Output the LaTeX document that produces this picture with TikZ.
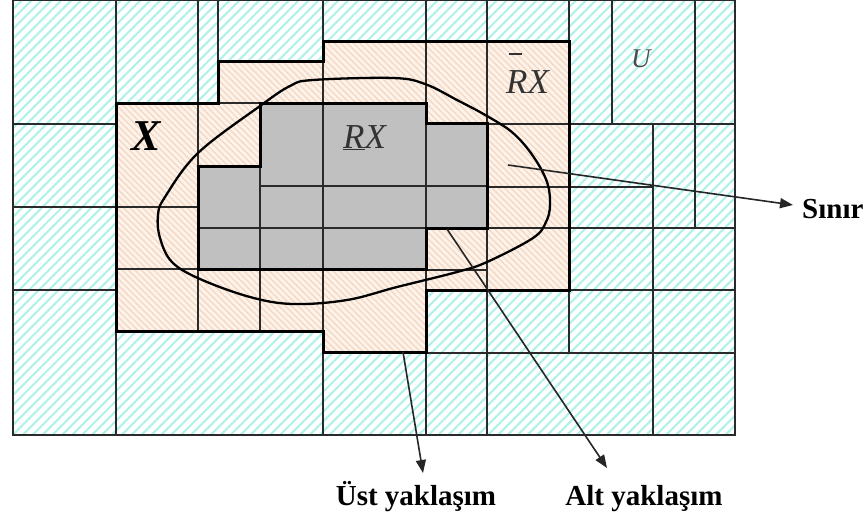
\documentclass[tikz,border=0pt]{standalone}
\usepackage{fontspec}
\setmainfont{Liberation Serif}
\usetikzlibrary{patterns.meta,arrows.meta}
\definecolor{cyanstripe}{HTML}{B0F2EA}
\definecolor{peachbase}{HTML}{FDF3EA}
\definecolor{peachstripe}{HTML}{F4DAC6}
\definecolor{grayfill}{HTML}{C0C0C0}
\definecolor{gridline}{HTML}{2A2A2A}
\newcommand{\myBarR}{\leavevmode\rlap{\hspace{0.08em}\raisebox{1.1em}{\rule{0.36em}{0.05em}}}R}
\begin{document}
\begin{tikzpicture}[x=1pt,y=-1pt,
  cyanzone/.style={preaction={fill=white}, pattern={Lines[angle=45,distance=7pt,line width=2.1pt]}, pattern color=cyanstripe},
  peachzone/.style={preaction={fill=peachbase}, pattern={Lines[angle=-45,distance=4.5pt,line width=1.5pt]}, pattern color=peachstripe},
  grayzone/.style={fill=grayfill},
  cell/.style={draw=gridline, line width=1.2pt},
  zoneedge/.style={draw=black, line width=3pt, line join=miter},
  blob/.style={draw=black, line width=2.3pt},
  arrowline/.style={draw=black!85, line width=1.6pt, -{Triangle[length=13pt,width=10pt]}},
  caption/.style={font=\fontsize{29}{32}\selectfont\bfseries, inner sep=0pt},
  setlabel/.style={inner sep=0pt}
]
\useasboundingbox (0,0) rectangle (867,517);
% base zone
\path[cyanzone] (13,0) rectangle (735,435);
% upper approximation zone
\path[peachzone] (116,103) -- (218,103) -- (218,61) -- (323,61) -- (323,41) -- (569,41)
  -- (569,290) -- (426,290) -- (426,352) -- (323,352) -- (323,331) -- (116,331) -- cycle;
% lower approximation zone
\path[grayzone] (260,103) -- (426,103) -- (426,123) -- (487,123) -- (487,228) -- (426,228)
  -- (426,269) -- (198,269) -- (198,166) -- (260,166) -- cycle;
% cells
\foreach \a/\b/\c/\d in {
  13/0/116/124, 116/0/198/103, 198/0/218/103, 218/0/323/61, 323/0/426/41, 426/0/487/41,
  487/0/569/41, 569/0/612/124, 612/0/695/124, 695/0/735/124, 695/124/735/228,
  569/124/653/187, 569/187/653/228, 653/124/695/228,
  569/228/653/290, 653/228/735/290, 569/290/653/353, 653/290/735/353,
  426/290/487/353, 487/290/569/353, 426/353/487/435, 487/353/653/435, 653/353/735/435,
  13/124/116/207, 13/207/116/290, 13/290/116/435, 116/331/323/435, 323/352/426/435,
  116/103/198/207, 198/103/260/166, 218/61/323/103, 323/41/426/103, 426/41/487/123,
  487/41/569/124, 487/124/569/187, 487/187/569/228, 487/228/569/290,
  426/228/487/270, 426/270/487/290, 116/207/198/269, 116/269/198/331,
  198/269/260/331, 260/269/323/331, 323/269/426/352,
  198/166/260/228, 198/228/260/269, 260/103/323/186, 260/186/323/228, 260/228/323/269,
  323/103/426/186, 323/186/426/228, 323/228/426/269, 426/123/487/186, 426/186/487/228}
  \draw[cell] (\a,\b) rectangle (\c,\d);
\draw[draw=gridline, line width=1.4pt] (13,0) rectangle (735,435);
% thick outlines
\draw[zoneedge] (116,103) -- (218,103) -- (218,61) -- (323,61) -- (323,41) -- (569,41)
  -- (569,290) -- (426,290) -- (426,352) -- (323,352) -- (323,331) -- (116,331) -- cycle;
\draw[zoneedge] (260,103) -- (426,103) -- (426,123) -- (487,123) -- (487,228) -- (426,228)
  -- (426,269) -- (198,269) -- (198,166) -- (260,166) -- cycle;
% the set X
\draw[blob] plot[smooth cycle, tension=0.6] coordinates {
  (313,80) (393,78) (425,84) (457,100) (487,116) (513,133) (533,156) (547,182)
  (550,205) (546,222) (533,238) (487,262) (457,272) (397,287) (347,300) (293,304)
  (250,297) (200,279) (172,262) (160,238) (158,215) (165,197) (198,153) (260,106) (290,86)};
% labels
\node[setlabel, font=\fontsize{44}{46}\selectfont\bfseries\itshape] (xlab) at (146,136) {X};
\node[setlabel, anchor=base west, font=\fontsize{35}{38}\selectfont\itshape, text=black!80] (lowlab) at (343,148) {\underline{R}X};
\node[setlabel, anchor=base west, font=\fontsize{35}{38}\selectfont\itshape, text=black!80] (uplab) at (506,93) {\myBarR X};
\node[setlabel, anchor=base west, font=\fontsize{27}{29}\selectfont\itshape, text=black!70] (ulab) at (631,67) {U};
% captions
\node[caption, anchor=base west] (sinir) at (802,218) {Sınır};
\node[caption, anchor=base] (ust) at (416,505) {Üst yaklaşım};
\node[caption, anchor=base] (alt) at (644,505) {Alt yaklaşım};
% connectors
\coordinate (sFrom) at (508,165);
\coordinate (sTip) at (793,205);
\coordinate (uFrom) at (403,352);
\coordinate (uTip) at (423,473);
\coordinate (aFrom) at (447,229);
\coordinate (aTip) at (607,468);
\draw[arrowline] (sFrom) -- (sTip);
\draw[arrowline] (uFrom) -- (uTip);
\draw[arrowline] (aFrom) -- (aTip);
\end{tikzpicture}
\end{document}
